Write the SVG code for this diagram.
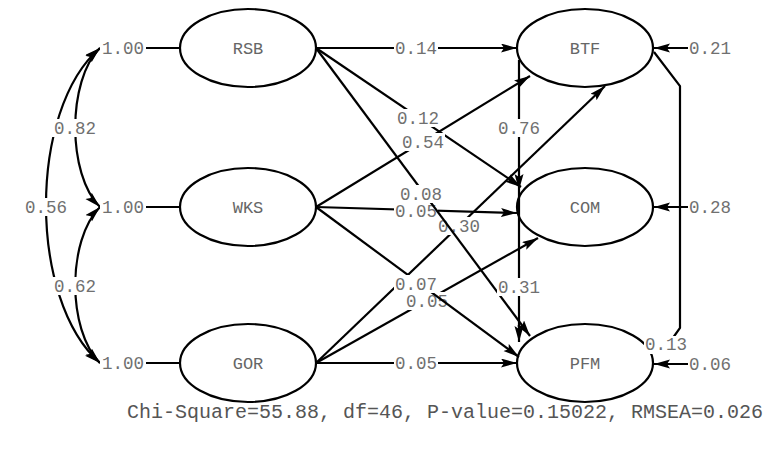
<svg xmlns="http://www.w3.org/2000/svg" width="778" height="454" viewBox="0 0 778 454">
  <defs>
    <marker id="head" markerUnits="userSpaceOnUse" markerWidth="18" markerHeight="10" refX="16" refY="4.5" orient="auto-start-reverse">
      <path d="M0,0 L16,4.5 L0,9 L3,4.5 z" fill="#000"/>
    </marker>
  </defs>
  <style>
    .bg { fill: #fff; }
    .node ellipse { fill: #fff; stroke: #000; stroke-width: 2.2; }
    .node text { font-family: "Liberation Mono", "DejaVu Sans Mono", monospace; font-size: 17px; fill: #666; text-anchor: middle; }
    .edge { fill: none; stroke: #000; stroke-width: 2.2; }
    .arrow { marker-end: url(#head); }
    .both { marker-start: url(#head); marker-end: url(#head); }
    .lbl rect { fill: #fff; }
    .lbl text, text.lbl { font-family: "Liberation Mono", "DejaVu Sans Mono", monospace; font-size: 17.5px; fill: #707070; text-anchor: middle; }
    .fit { font-family: "Liberation Mono", "DejaVu Sans Mono", monospace; font-size: 20px; fill: #555; }
  </style>
  <rect class="bg" width="778" height="454"/>

  <!-- latent variables -->
  <g id="RSB" class="node"><ellipse cx="248" cy="48" rx="68" ry="39"/><text x="248" y="54">RSB</text></g>
  <g id="WKS" class="node"><ellipse cx="248" cy="207" rx="68" ry="39"/><text x="248" y="213">WKS</text></g>
  <g id="GOR" class="node"><ellipse cx="248" cy="363" rx="68" ry="39"/><text x="248" y="369">GOR</text></g>
  <g id="BTF" class="node"><ellipse cx="585" cy="48" rx="68" ry="39"/><text x="585" y="54">BTF</text></g>
  <g id="COM" class="node"><ellipse cx="585" cy="207" rx="68" ry="39"/><text x="585" y="213">COM</text></g>
  <g id="PFM" class="node"><ellipse cx="585" cy="363" rx="68" ry="39"/><text x="585" y="369">PFM</text></g>

  <g id="connectors">
    <!-- exogenous variances -->
    <line class="edge" x1="146" y1="48" x2="180" y2="48"/>
    <line class="edge" x1="146" y1="207" x2="180" y2="207"/>
    <line class="edge" x1="146" y1="363" x2="180" y2="363"/>

    <!-- exogenous covariances -->
    <path class="edge both" d="M100,48 C67,80 67,175 100,207"/>
    <path class="edge both" d="M100,48 C28,110 28,300 100,363"/>
    <path class="edge both" d="M100,207 C67,240 67,330 100,363"/>
    <g class="lbl"><rect x="51" y="119" width="48" height="18"/><text x="75" y="134">0.82</text></g>
    <g class="lbl"><rect x="22" y="198" width="48" height="18"/><text x="46" y="213">0.56</text></g>
    <g class="lbl"><rect x="51" y="277" width="48" height="18"/><text x="75" y="292">0.62</text></g>
    <g class="lbl"><rect x="100" y="39" width="46" height="18"/><text x="123" y="54">1.00</text></g>
    <g class="lbl"><rect x="100" y="198" width="46" height="18"/><text x="123" y="213">1.00</text></g>
    <g class="lbl"><rect x="100" y="354" width="46" height="18"/><text x="123" y="369">1.00</text></g>

    <!-- gamma paths -->
    <line class="edge arrow" x1="316" y1="48" x2="517" y2="48"/>
    <g class="lbl"><rect x="394" y="39" width="44" height="18"/><text x="416" y="54">0.14</text></g>

    <line class="edge arrow" x1="316" y1="48" x2="521" y2="187"/>
    <g class="lbl"><rect x="396" y="109" width="44" height="18"/><text x="418" y="124">0.12</text></g>

    <line class="edge arrow" x1="316" y1="207" x2="530" y2="76"/>
    <g class="lbl"><rect x="401" y="133" width="44" height="18"/><text x="423" y="148">0.54</text></g>

    <line class="edge arrow" x1="316" y1="363" x2="605" y2="86"/>
    <g class="lbl"><rect x="437" y="217" width="44" height="18"/><text x="459" y="232">0.30</text></g>

    <line class="edge arrow" x1="316" y1="207" x2="517" y2="213"/>
    <g class="lbl"><rect x="394" y="202" width="44" height="18"/><text x="416" y="217">0.05</text></g>

    <line class="edge arrow" x1="316" y1="48" x2="530" y2="336"/>
    <g class="lbl"><rect x="399" y="185" width="44" height="18"/><text x="421" y="200">0.08</text></g>

    <line class="edge arrow" x1="316" y1="363" x2="538" y2="238"/>
    <g class="lbl"><rect x="405" y="292" width="44" height="18"/><text x="427" y="307">0.05</text></g>

    <line class="edge arrow" x1="316" y1="207" x2="519" y2="357"/>
    <g class="lbl"><rect x="394" y="275" width="44" height="18"/><text x="416" y="290">0.07</text></g>

    <line class="edge arrow" x1="316" y1="363" x2="517" y2="363"/>
    <g class="lbl"><rect x="394" y="354" width="44" height="18"/><text x="416" y="369">0.05</text></g>

    <!-- beta paths -->
    <line class="edge arrow" x1="519" y1="60" x2="519" y2="190"/>
    <line class="edge arrow" x1="519" y1="190" x2="519" y2="342"/>
    <g class="lbl"><rect x="497" y="119" width="44" height="18"/><text x="519" y="134">0.76</text></g>
    <g class="lbl"><rect x="497" y="278" width="44" height="18"/><text x="519" y="293">0.31</text></g>

    <!-- error covariance BTF / PFM -->
    <polyline class="edge" points="654,52 680,86 680,328 670,342"/>
    <g class="lbl"><rect x="644" y="336" width="44" height="18"/><text x="666" y="350">0.13</text></g>

    <!-- error terms -->
    <line class="edge arrow" x1="688" y1="48" x2="654" y2="48"/>
    <line class="edge arrow" x1="688" y1="207" x2="654" y2="207"/>
    <line class="edge arrow" x1="688" y1="364" x2="654" y2="364"/>
    <text class="lbl" x="710" y="54">0.21</text>
    <text class="lbl" x="710" y="213">0.28</text>
    <text class="lbl" x="710" y="370">0.06</text>
  </g>

  <text class="fit" x="127" y="418">Chi-Square=55.88, df=46, P-value=0.15022, RMSEA=0.026</text>
</svg>
